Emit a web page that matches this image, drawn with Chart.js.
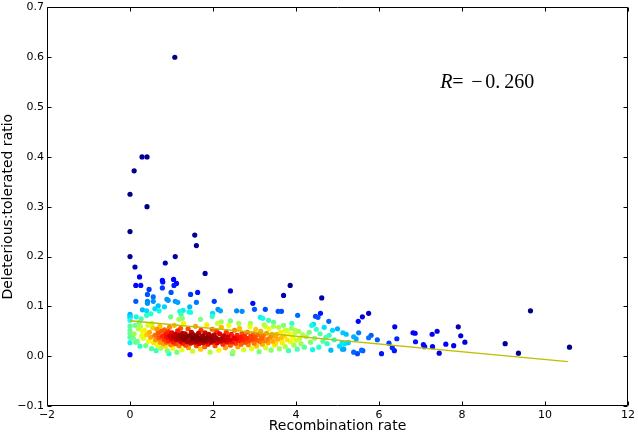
<!DOCTYPE html>
<html><head><meta charset="utf-8">
<script src="https://cdn.jsdelivr.net/npm/chart.js@4/dist/chart.umd.min.js"></script>
<style>html,body{margin:0;padding:0;background:#fff;}#wrap{width:638px;height:437px;}</style>
</head><body><div id="wrap"><canvas id="c" width="638" height="437"></canvas></div>
<script>
// ---- data ----
const recombRate = [
  // x = 0 column and high outliers
  0,0,0,0,0,0,0,0,0,0,0,0,0,0.10,0.29,0.41,0.41,1.08,1.56,
  // near-zero cyan
  0.12,0.14,0.10,0.20,0.25,0.28,0.18,0.30,0.22,0.15,0.27,0.08,0.24,
  // blue upper points
  0.12,0.23,0.14,0.26,0.14,0.42,0.42,0.42,0.46,0.30,0.40,0.40,0.50,0.56,0.56,0.60,0.85,1.09,1.60,1.81,
  0.78,0.79,0.78,1.05,1.06,1.12,0.99,0.89,0.92,1.09,0.68,0.83,0.70,1.20,1.28,1.44,1.42,1.46,1.63,1.60,
  2.03,2.12,2.18,1.99,2.42,2.57,2.70,2.96,3.00,3.26,3.57,3.65,3.86,3.70,4.04,3.14,3.20,3.34,1.15,1.23,1.46,1.26,
  // cyan band top
  0.98,1.18,1.70,1.98,2.20,2.42,2.62,2.90,3.26,3.46,3.74,3.90,3.98,
  // band 0.3-0.8
  0.32,0.35,0.38,0.40,0.43,0.45,0.47,0.50,0.52,0.53,0.55,0.57,0.60,0.62,0.63,0.65,0.66,0.68,0.70,0.72,
  0.73,0.74,0.76,0.78,0.80,
  // band 0.8-1.3
  0.82,0.83,0.85,0.86,0.88,0.89,0.90,0.92,0.93,0.95,0.96,0.98,1.00,1.01,1.03,1.04,1.06,1.07,1.09,1.10,
  1.12,1.13,1.15,1.16,1.18,1.19,1.21,1.22,1.24,1.25,1.26,1.27,1.28,1.29,0.94,
  // band 1.3-2.0
  1.31,1.33,1.34,1.36,1.38,1.40,1.41,1.43,1.45,1.46,1.48,1.50,1.51,1.53,1.55,1.56,1.58,1.60,1.61,1.63,
  1.65,1.66,1.68,1.70,1.71,1.73,1.75,1.76,1.78,1.80,1.81,1.83,1.85,1.86,1.88,1.90,1.91,1.93,1.95,1.96,
  1.98,1.99,
  // band 2.0-2.8
  2.01,2.03,2.05,2.07,2.09,2.10,2.12,2.14,2.16,2.18,2.20,2.22,2.24,2.26,2.28,2.30,2.32,2.34,2.36,2.38,
  2.40,2.42,2.44,2.46,2.48,2.50,2.52,2.54,2.56,2.58,2.60,2.62,2.64,2.66,2.68,2.70,2.72,2.74,2.76,2.78,
  2.11,2.47,
  // band 2.8-3.5
  2.81,2.83,2.85,2.87,2.89,2.91,2.93,2.95,2.97,2.99,3.01,3.03,3.05,3.07,3.09,3.11,3.13,3.15,3.17,3.19,
  3.21,3.23,3.25,3.27,3.29,3.31,3.33,3.35,3.38,3.40,3.42,3.44,3.46,3.48,3.49,
  // band 3.5-4.3
  3.51,3.53,3.56,3.58,3.60,3.63,3.65,3.67,3.70,3.72,3.74,3.77,3.79,3.82,3.84,3.87,3.89,3.92,3.95,3.97,
  4.00,4.03,4.06,4.09,4.12,4.16,4.20,4.25,
  // band 4.3-5.3
  4.32,4.35,4.38,4.42,4.49,4.45,4.47,4.53,4.59,4.62,4.55,4.58,4.65,4.68,4.72,4.80,4.79,4.88,4.84,4.75,
  4.92,5.00,5.05,5.13,5.21,5.11,5.17,5.26,5.12,5.15,4.40,
  // sparse right tail
  5.39,5.45,5.51,5.50,5.60,5.75,5.75,5.81,5.39,5.48,5.58,5.61,5.96,6.06,6.24,6.32,6.37,6.38,6.43,6.82,
  6.87,6.88,7.07,7.10,7.29,7.28,7.40,7.45,7.61,7.80,7.91,7.97,8.07,9.04,9.36,9.65,10.59
];
const ratio = [
  0.003,0.027,0.038,0.046,0.052,0.060,0.072,0.077,0.080,0.084,0.200,0.250,0.325,0.372,0.400,0.400,0.300,0.600,0.243,
  0.062,0.028,0.045,0.055,0.060,0.041,0.030,0.050,0.068,0.079,0.075,0.036,0.020,
  0.179,0.159,0.142,0.142,0.110,0.124,0.110,0.106,0.134,0.093,0.091,0.082,0.085,0.119,0.110,0.095,0.187,0.200,0.222,0.166,
  0.152,0.149,0.137,0.154,0.142,0.146,0.128,0.114,0.112,0.110,0.101,0.099,0.091,0.090,0.092,0.099,0.089,0.124,0.128,0.108,
  0.110,0.094,0.091,0.086,0.131,0.091,0.090,0.106,0.094,0.094,0.090,0.090,0.142,0.122,0.082,0.078,0.076,0.072,0.108,0.084,0.088,0.076,
  0.079,0.074,0.074,0.080,0.069,0.071,0.066,0.066,0.060,0.060,0.052,0.066,0.052,
  0.036,0.052,0.021,0.043,0.062,0.030,0.048,0.038,0.015,0.066,0.057,0.027,0.042,0.033,0.011,0.054,0.022,0.046,0.037,0.060,
  0.028,0.016,0.050,0.040,0.025,
  0.034,0.053,0.020,0.044,0.028,0.038,0.011,0.049,0.031,0.058,0.041,0.023,0.035,0.047,0.016,0.029,0.039,0.062,0.025,0.044,
  0.033,0.008,0.051,0.037,0.021,0.042,0.030,0.056,0.035,0.013,0.046,0.026,0.039,0.066,0.005,
  0.033,0.045,0.022,0.038,0.029,0.055,0.017,0.041,0.031,0.026,0.048,0.036,0.010,0.043,0.028,0.034,0.060,0.021,0.039,0.030,
  0.046,0.025,0.036,0.014,0.052,0.032,0.041,0.027,0.035,0.019,0.047,0.030,0.063,0.038,0.024,0.044,0.033,0.008,0.040,0.028,
  0.054,0.035,
  0.031,0.043,0.021,0.037,0.050,0.027,0.034,0.012,0.045,0.030,0.058,0.036,0.024,0.041,0.032,0.017,0.048,0.028,0.039,0.062,
  0.033,0.022,0.044,0.029,0.009,0.037,0.052,0.026,0.035,0.042,0.019,0.031,0.056,0.038,0.024,0.046,0.033,0.013,0.040,0.028,
  0.066,0.005,
  0.036,0.048,0.023,0.031,0.059,0.040,0.015,0.034,0.045,0.026,0.038,0.054,0.020,0.032,0.043,0.009,0.029,0.050,0.036,0.024,
  0.041,0.063,0.031,0.017,0.046,0.034,0.027,0.055,0.038,0.012,0.044,0.030,0.068,0.022,0.040,
  0.025,0.044,0.034,0.058,0.015,0.048,0.037,0.027,0.062,0.041,0.019,0.052,0.033,0.011,0.045,0.029,0.056,0.038,0.022,0.047,
  0.032,0.014,0.050,0.036,0.025,0.043,0.018,0.039,
  0.048,0.028,0.062,0.064,0.054,0.036,0.080,0.078,0.086,0.117,0.018,0.045,0.030,0.058,0.038,0.042,0.070,0.052,0.012,0.025,
  0.033,0.055,0.020,0.047,0.044,0.027,0.025,0.027,0.014,0.014,0.013,
  0.039,0.035,0.047,0.070,0.079,0.086,0.037,0.042,0.008,0.005,0.012,0.011,0.033,0.005,0.026,0.017,0.011,0.059,0.035,0.047,
  0.046,0.029,0.023,0.019,0.019,0.044,0.050,0.006,0.024,0.021,0.059,0.041,0.028,0.025,0.006,0.091,0.018
];
const fitX = [0, 10.55];
const fitY = [0.071, -0.011];
const xTicks = [-2, 0, 2, 4, 6, 8, 10, 12];
const yTicks = [-0.1, 0.0, 0.1, 0.2, 0.3, 0.4, 0.5, 0.6, 0.7];
const xLabel = 'Recombination rate';
const yLabel = 'Deleterious:tolerated ratio';
const rValue = '−0.260';

// ---- density colouring (gaussian KDE, Scott bandwidth) ----
const BW = 1.0;
function kde(xs, ys) {
  const n = xs.length;
  let mx = 0, my = 0;
  for (let i = 0; i < n; i++) { mx += xs[i]; my += ys[i]; }
  mx /= n; my /= n;
  let sxx = 0, syy = 0, sxy = 0;
  for (let i = 0; i < n; i++) {
    const dx = xs[i] - mx, dy = ys[i] - my;
    sxx += dx * dx; syy += dy * dy; sxy += dx * dy;
  }
  sxx /= (n - 1); syy /= (n - 1); sxy /= (n - 1);
  const f2 = Math.pow(n, -1 / 3) * BW * BW;
  const a = sxx * f2, b = sxy * f2, d = syy * f2;
  const det = a * d - b * b;
  const ia = d / det, ib = -b / det, id = a / det;
  const out = [];
  for (let i = 0; i < n; i++) {
    let s = 0;
    for (let j = 0; j < n; j++) {
      const dx = xs[i] - xs[j], dy = ys[i] - ys[j];
      s += Math.exp(-0.5 * (ia * dx * dx + 2 * ib * dx * dy + id * dy * dy));
    }
    out.push(s);
  }
  return out;
}
function interp(segs, t) {
  for (let k = 1; k < segs.length; k++) {
    if (t <= segs[k][0]) {
      const [x0, y0] = segs[k - 1], [x1, y1] = segs[k];
      return y0 + (y1 - y0) * (t - x0) / (x1 - x0);
    }
  }
  return segs[segs.length - 1][1];
}
function jet(t) {
  t = Math.max(0, Math.min(1, t));
  const r = interp([[0, 0], [0.35, 0], [0.66, 1], [0.89, 1], [1, 0.5]], t);
  const g = interp([[0, 0], [0.125, 0], [0.375, 1], [0.64, 1], [0.91, 0], [1, 0]], t);
  const b = interp([[0, 0.5], [0.11, 1], [0.34, 1], [0.65, 0], [1, 0]], t);
  return `rgb(${Math.round(r * 255)},${Math.round(g * 255)},${Math.round(b * 255)})`;
}
const dens = kde(recombRate, ratio);
const dmin = Math.min(...dens), dmax = Math.max(...dens);
const order = dens.map((v, i) => i).sort((p, q) => dens[p] - dens[q]);
const pts = order.map(i => ({ x: recombRate[i], y: ratio[i] }));
const cols = order.map(i => jet((dens[i] - dmin) / (dmax - dmin)));

const fmtMinus = s => s.replace('-', '\u2212');

const framePlugin = {
  id: 'frame',
  afterDatasetsDraw(chart) {
    const { ctx, chartArea: ca, scales: { x, y } } = chart;
    ctx.save();
    ctx.strokeStyle = '#000';
    ctx.lineWidth = 1;
    const L = Math.round(ca.left) + 0.5, R = Math.round(ca.right) - 0.5;
    const T = Math.round(ca.top) + 0.5, B = Math.round(ca.bottom) - 0.5;
    ctx.beginPath();
    xTicks.forEach(v => {
      const px = Math.round(x.getPixelForValue(v)) + 0.5;
      ctx.moveTo(px, B); ctx.lineTo(px, B - 4);
      ctx.moveTo(px, T); ctx.lineTo(px, T + 4);
    });
    yTicks.forEach(v => {
      const py = Math.round(y.getPixelForValue(v)) + 0.5;
      ctx.moveTo(L, py); ctx.lineTo(L + 4, py);
      ctx.moveTo(R, py); ctx.lineTo(R - 4, py);
    });
    ctx.stroke();
    ctx.beginPath();
    ctx.rect(L, T, R - L, B - T);
    ctx.stroke();
    // correlation annotation
    const ax = ca.left + 0.677 * (ca.right - ca.left);
    const ay = ca.top + 0.201 * (ca.bottom - ca.top);
    ctx.fillStyle = '#000';
    ctx.textBaseline = 'alphabetic';
    ctx.textAlign = 'left';
    ctx.font = 'italic 20px "Liberation Serif"';
    ctx.fillText('R', ax, ay);
    ctx.font = '20px "Liberation Serif"';
    ctx.fillText('=', ax + 12, ay);
    ctx.fillText(rValue.slice(0, 1), ax + 31, ay);
    ctx.fillText(rValue.slice(1, 3), ax + 45, ay);
    ctx.fillText(rValue.slice(3), ax + 64, ay);
    ctx.restore();
  }
};

new Chart(document.getElementById('c'), {
  type: 'scatter',
  data: {
    datasets: [
      { type: 'line', data: fitX.map((v, i) => ({ x: v, y: fitY[i] })), borderColor: 'rgb(191,191,0)',
        borderWidth: 1.4, pointRadius: 0, fill: false, tension: 0 },
      { data: pts, pointBackgroundColor: cols, pointRadius: 2.6, pointBorderWidth: 0, pointHoverRadius: 2.6 }
    ]
  },
  options: {
    responsive: false, animation: false, devicePixelRatio: 1,
    layout: { padding: { left: 0, right: 9, top: 5, bottom: 0 } },
    plugins: { legend: { display: false }, tooltip: { enabled: false } },
    scales: {
      x: {
        type: 'linear', position: 'bottom', min: -2, max: 12,
        afterBuildTicks: s => { s.ticks = xTicks.map(v => ({ value: v })); },
        afterFit: s => { s.height = 31; },
        grid: { display: false, drawTicks: false }, border: { display: false },
        ticks: { padding: 3, color: '#000', autoSkip: false, maxRotation: 0,
                 font: { family: 'DejaVu Sans', size: 11 }, callback: v => fmtMinus(String(v)) },
        title: { display: true, text: xLabel, color: '#000', font: { family: 'DejaVu Sans', size: 14 },
                 padding: { top: 0, bottom: 2 } }
      },
      y: {
        type: 'linear', position: 'left', min: -0.1, max: 0.7,
        afterBuildTicks: s => { s.ticks = yTicks.map(v => ({ value: v })); },
        afterFit: s => { s.width = 47; },
        grid: { display: false, drawTicks: false }, border: { display: false },
        ticks: { padding: 3, color: '#000', autoSkip: false,
                 font: { family: 'DejaVu Sans', size: 11, lineHeight: 0.8 }, callback: v => fmtMinus(v.toFixed(1)) },
        title: { display: true, text: yLabel, color: '#000', font: { family: 'DejaVu Sans', size: 14 },
                 padding: { top: 0, bottom: 0 } }
      }
    }
  },
  plugins: [framePlugin]
});
</script>
</body></html>
